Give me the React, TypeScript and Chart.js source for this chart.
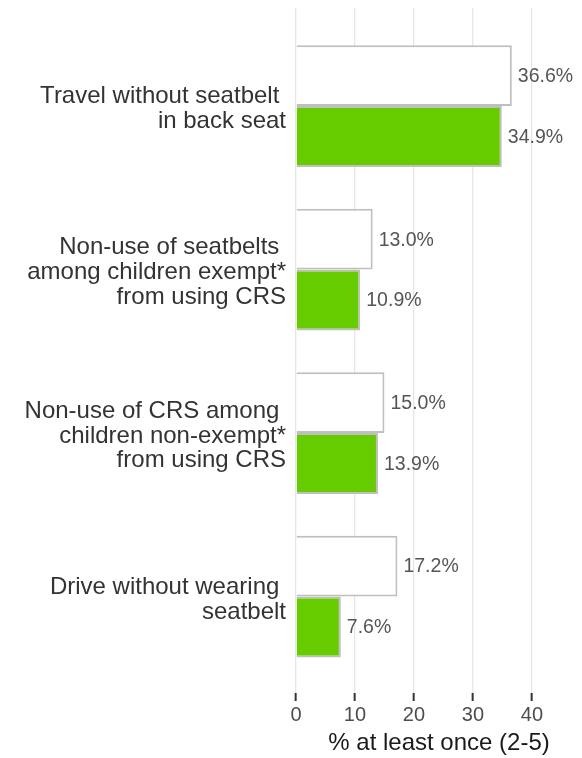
import React, { useEffect, useRef } from "react";
import { Chart, registerables } from "chart.js";

Chart.register(...registerables);

const categories: string[][] = [
  ["Travel without seatbelt ", "in back seat"],
  ["Non-use of seatbelts ", "among children exempt*", "from using CRS"],
  ["Non-use of CRS among ", "children non-exempt*", "from using CRS"],
  ["Drive without wearing ", "seatbelt"],
];
const seriesWhite: number[] = [36.6, 13.0, 15.0, 17.2];
const seriesGreen: number[] = [34.9, 10.9, 13.9, 7.6];
const xTicks: number[] = [0, 10, 20, 30, 40];
const xTitle = "% at least once (2-5)";

const labelPlugin = {
  id: "barLabels",
  afterDatasetsDraw(chart: any) {
    const ctx = chart.ctx;
    ctx.save();
    ctx.font = '19.5px "Liberation Sans", Arial, sans-serif';
    ctx.fillStyle = "#555555";
    ctx.textAlign = "left";
    ctx.textBaseline = "middle";
    chart.data.datasets.forEach((ds: any, di: number) => {
      const meta = chart.getDatasetMeta(di);
      meta.data.forEach((el: any, i: number) => {
        const v = ds.data[i].x;
        ctx.fillText(v.toFixed(1) + "%", el.x + 6, el.y + 1);
      });
    });
    ctx.restore();
  },
};

export default function App() {
  const ref = useRef<HTMLCanvasElement | null>(null);
  useEffect(() => {
    document.body.style.margin = "0";
    const canvas = ref.current;
    if (!canvas) return;
    const chart = new Chart(canvas, {
      type: "bar",
      data: {
        datasets: [
          {
            label: "white",
            data: seriesWhite.map((v, i) => ({ x: v, y: i })),
            backgroundColor: "#ffffff",
            borderColor: "#bfbfbf",
            borderWidth: 2,
            categoryPercentage: 0.745,
            barPercentage: 1,
          },
          {
            label: "green",
            data: seriesGreen.map((v, i) => ({ x: v, y: i })),
            backgroundColor: "#66cc00",
            borderColor: "#bfbfbf",
            borderWidth: 2,
            categoryPercentage: 0.745,
            barPercentage: 1,
          },
        ] as any,
      },
      plugins: [labelPlugin],
      options: {
        animation: false,
        responsive: false,
        indexAxis: "y",
        layout: { padding: { top: 8, right: 0, left: 0, bottom: 0 } },
        plugins: {
          legend: { display: false },
          tooltip: { enabled: false },
        },
        scales: {
          x: {
            type: "linear",
            min: 0,
            max: 48.5,
            afterBuildTicks: (scale: any) => {
              scale.ticks = xTicks.map((v) => ({ value: v }));
            },
            afterFit: (scale: any) => {
              scale.height = 65;
            },
            border: { display: false },
            grid: {
              color: "#e6e6e6",
              lineWidth: 1.3,
              drawTicks: true,
              tickLength: 8,
              tickColor: "#333333",
              tickWidth: 2,
            },
            ticks: {
              color: "#4d4d4d",
              padding: 2,
              font: { family: '"Liberation Sans", Arial, sans-serif', size: 20 },
              callback: (v: any) => String(v),
            },
            title: {
              display: true,
              text: xTitle,
              color: "#1a1a1a",
              padding: { top: 0, bottom: 0 },
              font: { family: '"Liberation Sans", Arial, sans-serif', size: 24 },
            },
          },
          y: {
            type: "linear",
            reverse: true,
            offset: false,
            min: -0.6,
            max: 3.59,
            afterBuildTicks: (scale: any) => {
              scale.ticks = categories.map((_, i) => ({ value: i }));
            },
            afterFit: (scale: any) => {
              scale.width = 296;
              scale.paddingTop = 0;
              scale.paddingBottom = 0;
            },
            border: { display: false },
            grid: { display: false, drawTicks: false, offset: false },
            ticks: {
              autoSkip: false,
              padding: 10,
              labelOffset: 3,
              color: "#333333",
              font: {
                family: '"Liberation Sans", Arial, sans-serif',
                size: 24,
                lineHeight: 1.03,
              },
              callback: (v: any) => categories[Math.round(Number(v))] ?? "",
            },
          },
        },
      } as any,
    });
    return () => chart.destroy();
  }, []);
  return (
    <div style={{ width: 582, height: 758 }}>
      <canvas ref={ref} width={582} height={758} />
    </div>
  );
}
